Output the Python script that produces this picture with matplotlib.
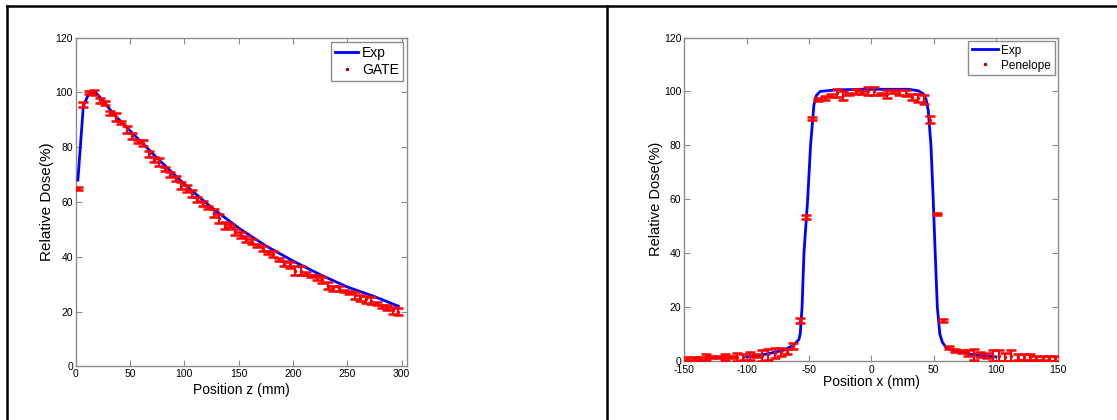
import matplotlib
matplotlib.use("Agg")
import matplotlib.pyplot as plt
from matplotlib.lines import Line2D

plt.rcParams['font.family'] = ['Liberation Sans', 'DejaVu Sans']
plt.rcParams['axes.unicode_minus'] = False

# ---- left panel: depth dose (Exp vs GATE) ----
exp_z = [2, 7, 12, 17, 25, 35, 50, 75, 100, 125, 150, 175, 200, 225, 250, 275, 297]
exp_z_dose = [68, 95, 99.5, 100.5, 97, 92, 86, 76, 66.5, 58, 50.5, 44, 38.5, 33.5, 29, 25.5, 22]

gate_z = [2, 7, 12, 17, 22, 27, 32, 37, 42, 47, 52, 57, 62, 67, 72, 77, 82, 87, 92, 97,
          102, 107, 112, 117, 122, 127, 132, 137, 142, 147, 152, 157, 162, 167, 172, 177,
          182, 187, 192, 197, 202, 207, 212, 217, 222, 227, 232, 237, 242, 247, 252, 257,
          262, 267, 272, 277, 282, 287, 292, 297]
gate_dose = [65, 95.5, 100, 100, 97, 96, 92.5, 91, 89, 86.5, 84, 82, 81.5, 77.5, 75.5, 74.5,
             72, 70, 68.5, 66, 65, 63, 61, 59.5, 58, 56, 54, 51.5, 51.5, 49, 48, 46.5, 45.5,
             44, 43, 41.5, 41, 39, 37.5, 37, 35, 35, 34, 33, 32.5, 31.5, 29.5, 28.5, 28.5,
             27.5, 27, 26, 25, 24.5, 24, 23, 22, 21.5, 20.5, 20]
gate_err = [0.5, 1, 0.5, 1, 0.8, 0.8, 0.8, 1.5, 0.5, 1.2, 1, 0.5, 1, 1, 0.8, 1.5, 0.8, 0.8,
            1, 1.2, 1.2, 1.2, 1, 0.8, 0.5, 1.5, 1.5, 1.2, 0.5, 1.2, 1, 1.2, 1, 0.5, 0.8, 0.5,
            1.2, 0.5, 1, 1.2, 1.5, 1.5, 0.5, 0.5, 1, 1.2, 1.2, 1, 0.8, 0.5, 0.5, 1.2, 1.2,
            1.2, 1.2, 0.5, 0.5, 1, 1.2, 1.2]

# ---- right panel: lateral profile (Exp vs Penelope) ----
exp_x = [-100, -90, -80, -70, -62, -58, -57, -55.5, -54, -51, -48.7, -46, -44, -41, -30,
         -10, 10, 30, 38, 42, 44, 45.7, 47.9, 49.7, 51.3, 53, 55, 57, 60, 65, 70, 80, 90, 100]
exp_x_dose = [1.5, 2, 3, 4, 6, 8, 10, 20, 40, 60, 80, 95, 98.5, 100, 100.5, 100.8, 100.8,
              100.8, 100.2, 99, 97, 93, 80, 60, 40, 20, 10, 7, 5, 4, 3.5, 2.5, 2, 1.5]

pen_x = [-147.5, -142.5, -137.5, -132.5, -127.5, -122.5, -117.5, -112.5, -107.5, -102.5,
         -97.5, -92.5, -87.5, -82.5, -77.5, -72.5, -67.5, -62.5, -57.5, -52.5, -47.5, -42.5,
         -37.5, -32.5, -27.5, -22.5, -17.5, -12.5, -7.5, -2.5, 2.5, 7.5, 12.5, 17.5, 22.5,
         27.5, 32.5, 37.5, 42.5, 47.5, 52.5, 57.5, 62.5, 67.5, 72.5, 77.5, 82.5, 87.5, 92.5,
         97.5, 102.5, 107.5, 112.5, 117.5, 122.5, 127.5, 132.5, 137.5, 142.5, 147.5]
pen_dose = [1, 1, 1, 1.5, 1.5, 1.5, 1.5, 1.5, 1.5, 1.5, 2, 2, 2, 2.5, 3, 3.5, 3.5, 5.5, 15,
            53.5, 90, 97, 97.5, 98.5, 99.5, 98.5, 99, 100, 99.5, 100, 100, 99, 99, 100, 99.5,
            99.5, 98, 97.5, 97, 89.5, 54.5, 15, 5, 4, 3.5, 3, 2.5, 2.5, 2, 2, 2, 1.5, 2, 1.5,
            1.5, 1.5, 1, 1, 1, 1]
pen_err = [0.5, 0.5, 0.5, 1.2, 0.5, 0.5, 1.2, 0.5, 1.5, 1, 1.5, 0.5, 2, 2, 2, 1.5, 1, 1,
           1, 0.8, 0.5, 0.5, 0.8, 0.5, 1.5, 1.5, 0.5, 1, 0.5, 1.5, 1.5, 0.5, 1.5, 0.5, 1,
           1.2, 1.2, 1.5, 1.5, 1.2, 0.5, 0.5, 0.5, 0.5, 0.5, 1, 2, 1, 0.8, 2, 2, 1.5, 2, 1,
           1, 1, 0.8, 0.8, 1, 1]

fig = plt.figure(figsize=(11.17, 4.2), dpi=100)

ax1 = fig.add_axes([0.0678, 0.1274, 0.2966, 0.7833])
ax2 = fig.add_axes([0.6126, 0.1405, 0.3348, 0.7702])


def style_axes(ax, xlim, xticks):
    ax.set_xlim(*xlim)
    ax.set_ylim(0, 120)
    ax.set_xticks(xticks)
    ax.set_yticks(range(0, 121, 20))
    for s in ax.spines.values():
        s.set_color('#8c8c8c')
        s.set_linewidth(1.0)
    ax.tick_params(direction='in', top=True, right=True, length=4, width=0.8,
                   color='#8c8c8c', labelsize=7.5, pad=2)


# left
ax1.plot(exp_z, exp_z_dose, color='#0000ff', lw=2, label='Exp', zorder=3)
ax1.errorbar(gate_z, gate_dose, yerr=gate_err, fmt='none', ecolor='#ff0000',
             elinewidth=1.5, capsize=3.5, capthick=1.8, zorder=4)
ax1.plot(gate_z, gate_dose, ls='none', marker='.', ms=3, color='#ff0000', zorder=5)
ax1.plot([], [], ls='none', marker='.', ms=3, color='#b00000', label='GATE')
style_axes(ax1, (0, 305), range(0, 301, 50))
ax1.set_xlabel('Position z (mm)', fontsize=10, labelpad=3)
ax1.set_ylabel('Relative Dose(%)', fontsize=11, labelpad=1)
leg1 = ax1.legend(loc='upper right', fontsize=10, handlelength=1.6, fancybox=False,
                  framealpha=1, borderaxespad=0.3, handletextpad=0.3, labelspacing=0.25,
                  borderpad=0.3)
leg1.get_frame().set_edgecolor('#8c8c8c')

# right
ax2.plot(exp_x, exp_x_dose, color='#0000ff', lw=2, label='Exp', zorder=3)
ax2.errorbar(pen_x, pen_dose, yerr=pen_err, fmt='none', ecolor='#ff0000',
             elinewidth=1.5, capsize=3.5, capthick=1.8, zorder=4)
ax2.plot(pen_x, pen_dose, ls='none', marker='.', ms=3, color='#ff0000', zorder=5)
ax2.plot([], [], ls='none', marker='.', ms=3, color='#b00000', label='Penelope')
style_axes(ax2, (-150, 150), range(-150, 151, 50))
ax2.tick_params(axis='x', pad=3)
ax2.set_xlabel('Position x (mm)', fontsize=10, labelpad=0)
ax2.set_ylabel('Relative Dose(%)', fontsize=10.5, labelpad=1)
leg2 = ax2.legend(loc='upper right', fontsize=8.5, handlelength=2.2, fancybox=False,
                  framealpha=1, borderaxespad=0.3, handletextpad=0.3, labelspacing=0.25,
                  borderpad=0.3)
leg2.get_frame().set_edgecolor('#8c8c8c')

# outer frame lines of the table-like layout
H, W = 420.0, 1117.0
fig.add_artist(Line2D([7 / W, 1], [1 - 6 / H, 1 - 6 / H], color='black', lw=1.8))
fig.add_artist(Line2D([7 / W, 7 / W], [0, 1 - 6 / H], color='black', lw=1.8))
fig.add_artist(Line2D([607 / W, 607 / W], [0, 1 - 6 / H], color='black', lw=1.8))

fig.savefig('out.png', dpi=100)
